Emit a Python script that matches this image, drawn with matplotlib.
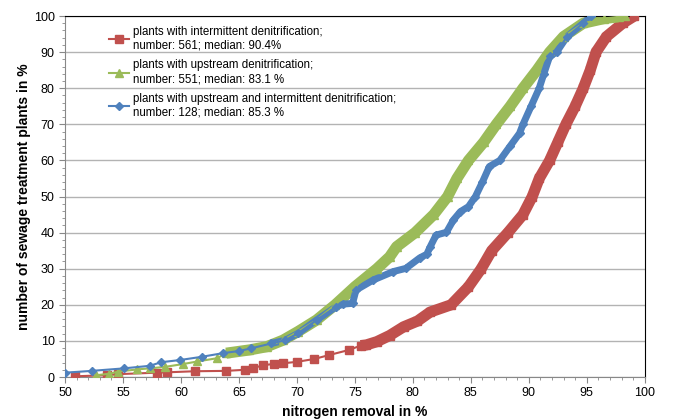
import matplotlib
matplotlib.use("Agg")
import matplotlib.pyplot as plt
from matplotlib.ticker import MultipleLocator

plt.rcParams['font.family'] = ['Liberation Sans', 'DejaVu Sans']

# intermittent denitrification
red_x = [50.9, 53.6, 54.6, 57.9, 58.8, 61.2, 63.9, 65.5, 66.2, 67.1, 68.0, 68.8, 70.0, 71.5, 72.8,
         74.5, 75.5, 76.0, 76.9, 78.0, 79.2, 80.4, 81.5, 83.3, 84.8, 85.9, 86.8, 88.2, 89.5, 90.3,
         90.9, 91.8, 92.5, 93.2, 94.0, 94.7, 95.3, 95.8, 96.7, 98.1, 99.1]
red_y = [0.2, 0.5, 0.8, 1.2, 1.3, 1.6, 1.7, 2.0, 2.4, 3.3, 3.6, 3.8, 4.2, 5.0, 6.1,
         7.5, 8.7, 8.9, 9.8, 11.5, 13.9, 15.5, 18.0, 20.0, 25.0, 30.0, 35.0, 40.0, 45.0, 50.0,
         55.0, 60.0, 65.0, 70.0, 75.0, 80.0, 85.0, 90.0, 94.3, 98.0, 100.0]

# upstream denitrification
green_x = [52.7, 53.8, 54.6, 56.2, 57.3, 58.6, 60.2, 61.4, 63.1, 63.9, 65.9, 67.4, 68.8, 70.1, 71.7,
           73.3, 75.0, 76.9, 78.0, 78.6, 80.2, 81.8, 83.0, 83.8, 84.8, 86.1, 87.2, 88.4, 89.5, 90.7,
           91.8, 93.0, 94.7, 96.5, 97.8, 98.3]
green_y = [0.5, 0.9, 1.5, 2.1, 2.4, 2.8, 3.6, 4.3, 5.2, 6.6, 7.5, 8.4, 10.2, 12.6, 15.8,
           20.0, 25.0, 30.0, 33.3, 36.1, 40.0, 45.0, 50.0, 55.0, 60.0, 65.0, 70.0, 75.0, 80.0, 85.0,
           90.0, 94.3, 98.0, 99.3, 99.8, 100.0]

# upstream and intermittent denitrification
blue_x = [50.0, 52.3, 55.1, 57.3, 58.3, 59.9, 61.8, 63.6, 65.0, 66.0, 67.8, 69.0, 70.1, 71.7, 73.4,
          74.0, 74.8, 75.1, 76.6, 78.3, 79.4, 80.6, 81.2, 81.5, 82.0, 82.9, 83.5, 84.1, 84.8, 85.4,
          86.0, 86.6, 87.5, 88.4, 89.2, 89.5, 90.2, 90.9, 91.3, 91.8, 92.4, 93.3, 94.7, 95.4]
blue_y = [1.2, 1.7, 2.4, 3.1, 4.1, 4.7, 5.6, 6.6, 7.2, 7.9, 9.3, 10.2, 12.1, 15.8, 19.5,
          20.2, 20.4, 24.1, 26.9, 29.2, 30.1, 33.0, 34.0, 36.1, 39.3, 40.1, 43.5, 45.8, 47.2, 50.0,
          54.0, 58.3, 60.0, 64.0, 67.5, 70.0, 75.0, 80.0, 84.0, 88.8, 90.0, 94.3, 98.0, 100.0]

labels = ["plants with intermittent denitrification;\nnumber: 561; median: 90.4%",
          "plants with upstream denitrification;\nnumber: 551; median: 83.1 %",
          "plants with upstream and intermittent denitrification;\nnumber: 128; median: 85.3 %"]

RED, GREEN, BLUE = '#C0504D', '#9BBB59', '#4F81BD'

fig = plt.figure(figsize=(6.73, 4.19), dpi=100)
ax = fig.add_axes([0.0966, 0.1002, 0.8614, 0.8616])

def dense(xs, ys, thr):
    px = [x for x, y in zip(xs, ys) if y >= thr]
    py = [y for y in ys if y >= thr]
    return px, py

# thick band where markers overlap densely
for xs, ys, c, thr, w in [(red_x, red_y, RED, 8.5, 8), (green_x, green_y, GREEN, 6.0, 8),
                          (blue_x, blue_y, BLUE, 9, 5)]:
    px, py = dense(xs, ys, thr)
    ax.plot(px, py, color=c, lw=w, solid_capstyle='butt', zorder=2)

ax.plot(red_x, red_y, color=RED, lw=1.5, marker='s', ms=6, label=labels[0], zorder=3)
ax.plot(green_x, green_y, color=GREEN, lw=1.5, marker='^', ms=6, label=labels[1], zorder=3)
ax.plot(blue_x, blue_y, color=BLUE, lw=1.5, marker='D', ms=4.5, label=labels[2], zorder=4)

ax.set_xlim(50, 100)
ax.set_ylim(0, 100)
ax.xaxis.set_major_locator(MultipleLocator(5))
ax.xaxis.set_minor_locator(MultipleLocator(1))
ax.yaxis.set_major_locator(MultipleLocator(10))
ax.yaxis.set_minor_locator(MultipleLocator(2))
ax.grid(axis='y', which='major', color='#b3b3b3', lw=1)
ax.set_axisbelow(True)
ax.tick_params(which='both', direction='out', colors='#888888', labelcolor='black', labelsize=9)
ax.tick_params(which='major', length=4)
ax.tick_params(which='minor', length=2.5)
for s in ['left', 'bottom']:
    ax.spines[s].set_color('#888888')
for s in ['top', 'right']:
    ax.spines[s].set_color('black')

ax.set_xlabel('nitrogen removal in %', fontsize=10, fontweight='bold', labelpad=4)
ax.set_ylabel('number of sewage treatment plants in %', fontsize=10, fontweight='bold', labelpad=2)

leg = ax.legend(loc='upper left', bbox_to_anchor=(0.068, 0.985), frameon=False, fontsize=8.3,
                handlelength=1.7, handletextpad=0.35, labelspacing=0.65, borderaxespad=0)

fig.savefig('out.png', dpi=100)
